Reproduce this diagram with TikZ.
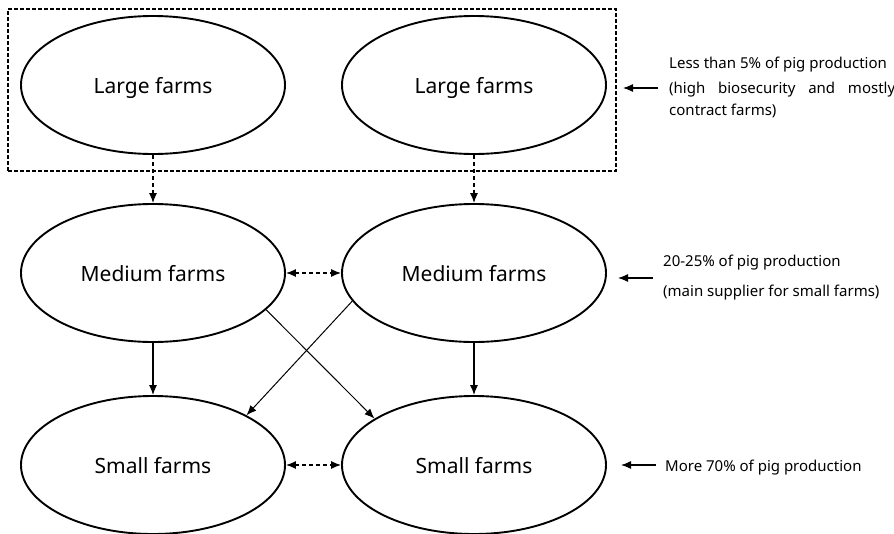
\documentclass[tikz,border=0pt]{standalone}
\usepackage{fontspec}
\setmainfont{Noto Sans}
\usetikzlibrary{arrows.meta,shapes.geometric}
\begin{document}
\begin{tikzpicture}[x=1pt,y=-1pt,
  farm/.style={draw,ellipse,line width=1.9pt,minimum width=264pt,minimum height=138pt,inner sep=0pt,text depth=0pt,font=\fontsize{21}{24}\selectfont},
  note/.style={anchor=base west,inner sep=0pt,font=\fontsize{15}{18}\selectfont},
  arr/.style={line width=1.2pt,-{Latex[length=10pt,width=8pt]}},
  darr/.style={arr,dash pattern=on 4pt off 3pt},
  ddarr/.style={line width=1.2pt,{Latex[length=10pt,width=8pt]}-{Latex[length=10pt,width=8pt]},dash pattern=on 4pt off 3pt},
  thin/.style={line width=1pt,-{Latex[length=10pt,width=8pt]}}]
\useasboundingbox (0,0) rectangle (894,533);
% dashed box
\node[draw,line width=1.2pt,dash pattern=on 4pt off 2pt,minimum width=608pt,minimum height=162pt,inner sep=0pt] (box) at (312,90) {};
% ellipses
\node[farm] (L1) at (153,85) {Large farms};
\node[farm] (L2) at (474,85) {Large farms};
\node[farm] (M1) at (153,273) {Medium farms};
\node[farm] (M2) at (474,273) {Medium farms};
\node[farm] (S1) at (153,465) {Small farms};
\node[farm] (S2) at (474,465) {Small farms};
% connectors
\draw[darr] (L1.south) -- (M1.north);
\draw[darr] (L2.south) -- (M2.north);
\draw[ddarr] (M1.east) -- (M2.west);
\draw[ddarr] (S1.east) -- (S2.west);
\draw[arr] (M1.south) -- (S1.north);
\draw[arr] (M2.south) -- (S2.north);
\draw[thin] (M1.-18) -- (S2.155);
\draw[thin] (M2.193) -- (S1.28);
% notes
\node[note] (n1) at (669,68) {Less than 5\% of pig production};
\node[note] (n2) at (669,93) {\hbox to 226pt{(high\hfill biosecurity\hfill and\hfill mostly}};
\node[note] (n3) at (669,115) {contract farms)};
\node[note] (n4) at (663,266) {20-25\% of pig production};
\node[note] (n5) at (663,296) {(main supplier for small farms)};
\node[note] (n6) at (665,471) {More 70\% of pig production};
\coordinate (a1s) at (658,88); \coordinate (a1e) at (623,88);
\coordinate (a2s) at (653,278); \coordinate (a2e) at (618,278);
\coordinate (a3s) at (656,465); \coordinate (a3e) at (621,465);
\draw[arr] (a1s) -- (a1e);
\draw[arr] (a2s) -- (a2e);
\draw[arr] (a3s) -- (a3e);
\end{tikzpicture}
\end{document}
